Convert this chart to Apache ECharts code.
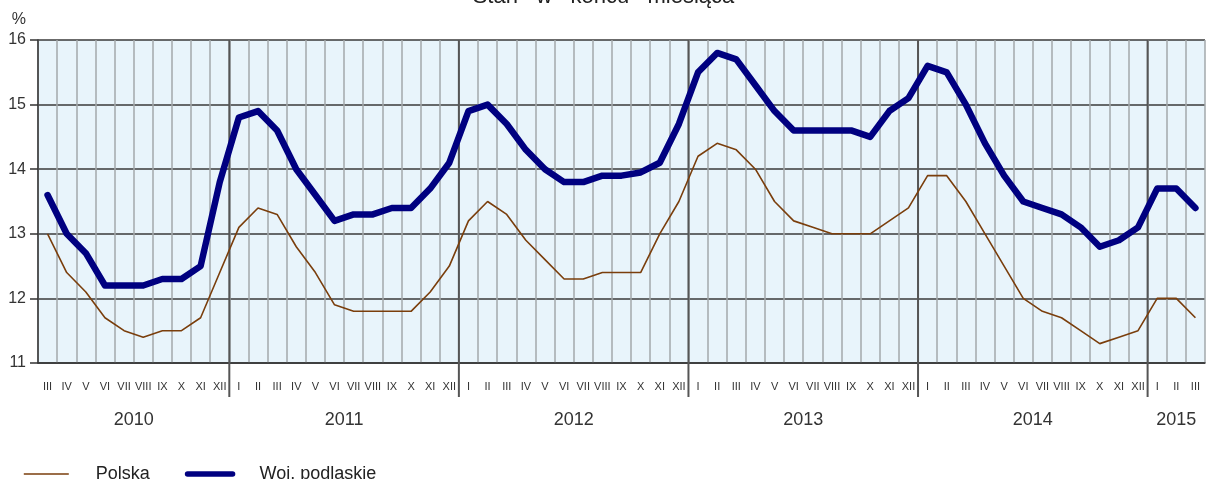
<!DOCTYPE html>
<html>
<head>
<meta charset="utf-8">
<title>Stan w końcu miesiąca</title>
<script src="https://cdn.jsdelivr.net/npm/echarts@6/dist/echarts.min.js"></script>
<style>
  html, body { margin: 0; padding: 0; background: #fff; }
  #chart { width: 1207px; height: 479px; }
</style>
</head>
<body>
<div id="chart"></div>
<script>
// months in roman numerals, years shown and which months each year covers
const romanMonths = ['I', 'II', 'III', 'IV', 'V', 'VI', 'VII', 'VIII', 'IX', 'X', 'XI', 'XII']
const years = ['2010', '2011', '2012', '2013', '2014', '2015']
const yearFirstMonth = [3, 1, 1, 1, 1, 1]
const yearLastMonth = [12, 12, 12, 12, 12, 3]

// values, III 2010 .. III 2015
const polska = [
    13.0, 12.4, 12.1, 11.7, 11.5, 11.4, 11.5, 11.5, 11.7, 12.4,
    13.1, 13.4, 13.3, 12.8, 12.4, 11.9, 11.8, 11.8, 11.8, 11.8, 12.1, 12.5,
    13.2, 13.5, 13.3, 12.9, 12.6, 12.3, 12.3, 12.4, 12.4, 12.4, 13.0, 13.5,
    14.2, 14.4, 14.3, 14.0, 13.5, 13.2, 13.1, 13.0, 13.0, 13.0, 13.2, 13.4,
    13.9, 13.9, 13.5, 13.0, 12.5, 12.0, 11.8, 11.7, 11.5, 11.3, 11.4, 11.5,
    12.0, 12.0, 11.7
]
const podlaskie = [
    13.6, 13.0, 12.7, 12.2, 12.2, 12.2, 12.3, 12.3, 12.5, 13.8,
    14.8, 14.9, 14.6, 14.0, 13.6, 13.2, 13.3, 13.3, 13.4, 13.4, 13.7, 14.1,
    14.9, 15.0, 14.7, 14.3, 14.0, 13.8, 13.8, 13.9, 13.9, 13.95, 14.1, 14.7,
    15.5, 15.8, 15.7, 15.3, 14.9, 14.6, 14.6, 14.6, 14.6, 14.5, 14.9, 15.1,
    15.6, 15.5, 15.0, 14.4, 13.9, 13.5, 13.4, 13.3, 13.1, 12.8, 12.9, 13.1,
    13.7, 13.7, 13.4
]
const yMin = 11
const yMax = 16

const FONT = '"Liberation Sans", Arial, sans-serif'

const categories = []
const yearSpans = []
years.forEach((y, i) => {
    const start = categories.length
    for (let m = yearFirstMonth[i]; m <= yearLastMonth[i]; m++) {
        categories.push(romanMonths[m - 1])
    }
    yearSpans.push([start, categories.length])
})

const chart = echarts.init(document.getElementById('chart'))
chart.setOption({
    animation: false,
    title: {
        text: 'Stan   w   końcu   miesiąca',
        left: 'center',
        top: -14,
        padding: 0,
        textStyle: { fontFamily: FONT, fontSize: 22, fontWeight: 'normal', color: '#222' }
    },
    legend: {
        data: [
            { name: 'Polska', lineStyle: { width: 1.6 } },
            { name: 'Woj. podlaskie', lineStyle: { width: 5.5, cap: 'round' } }
        ],
        left: 18,
        top: 460,
        itemWidth: 45,
        itemHeight: 14,
        itemGap: 35,
        itemStyle: { opacity: 0 },
        textStyle: { fontFamily: FONT, fontSize: 18, color: '#222', padding: [0, 0, 0, 22] }
    },
    grid: {
        left: 38,
        right: 2,
        top: 40,
        bottom: 116,
        show: true,
        backgroundColor: '#e8f4fb',
        borderWidth: 0
    },
    xAxis: [{
        type: 'category',
        data: categories,
        boundaryGap: true,
        axisLine: { lineStyle: { color: '#333', width: 1.5 } },
        axisTick: { interval: 0, length: 8, lineStyle: { color: '#333', width: 1.5 } },
        axisLabel: { interval: 0, margin: 18, fontFamily: FONT, fontSize: 11, color: '#333' },
        splitLine: { show: true, interval: 0, lineStyle: { color: '#a3a8ab', width: 1.5 } }
    }, {
        type: 'value',
        min: 0,
        max: categories.length,
        show: false
    }],
    yAxis: {
        type: 'value',
        min: yMin,
        max: yMax,
        interval: 1,
        name: '%',
        nameLocation: 'end',
        nameGap: 12,
        nameTextStyle: { fontFamily: FONT, fontSize: 16, color: '#333', align: 'right', padding: [0, 12, 0, 0] },
        axisLine: { show: true, lineStyle: { color: '#333', width: 1.5 } },
        axisTick: { show: true, length: 8, lineStyle: { color: '#333', width: 1.5 } },
        axisLabel: { margin: 12, fontFamily: FONT, fontSize: 16, color: '#333' },
        splitLine: { lineStyle: { color: '#3a3a3a', width: 1.5 } }
    },
    series: [{
        type: 'custom',
        xAxisIndex: 1,
        yAxisIndex: 0,
        clip: false,
        silent: true,
        z: 1,
        data: yearSpans,
        renderItem: (params, api) => {
            const cs = params.coordSys
            const bottom = cs.y + cs.height
            const xs = api.coord([api.value(0), yMin])[0]
            const xe = api.coord([api.value(1), yMin])[0]
            const children = [{
                type: 'text',
                style: {
                    text: years[params.dataIndex],
                    x: (xs + xe) / 2,
                    y: bottom + 57,
                    align: 'center',
                    verticalAlign: 'middle',
                    font: '18px ' + FONT,
                    fill: '#333'
                }
            }]
            if (api.value(0) > 0) {
                children.push({
                    type: 'line',
                    shape: { x1: xs, y1: cs.y, x2: xs, y2: bottom + 34 },
                    style: { stroke: '#555', lineWidth: 2 }
                })
            }
            return { type: 'group', children }
        }
    }, {
        name: 'Polska',
        type: 'line',
        data: polska,
        symbol: 'none',
        z: 3,
        color: '#7a3e0c',
        lineStyle: { color: '#7a3e0c', width: 1.6 }
    }, {
        name: 'Woj. podlaskie',
        type: 'line',
        data: podlaskie,
        symbol: 'none',
        z: 4,
        color: '#000080',
        lineStyle: { color: '#000080', width: 6.5, cap: 'round', join: 'round' }
    }]
})
</script>
</body>
</html>
